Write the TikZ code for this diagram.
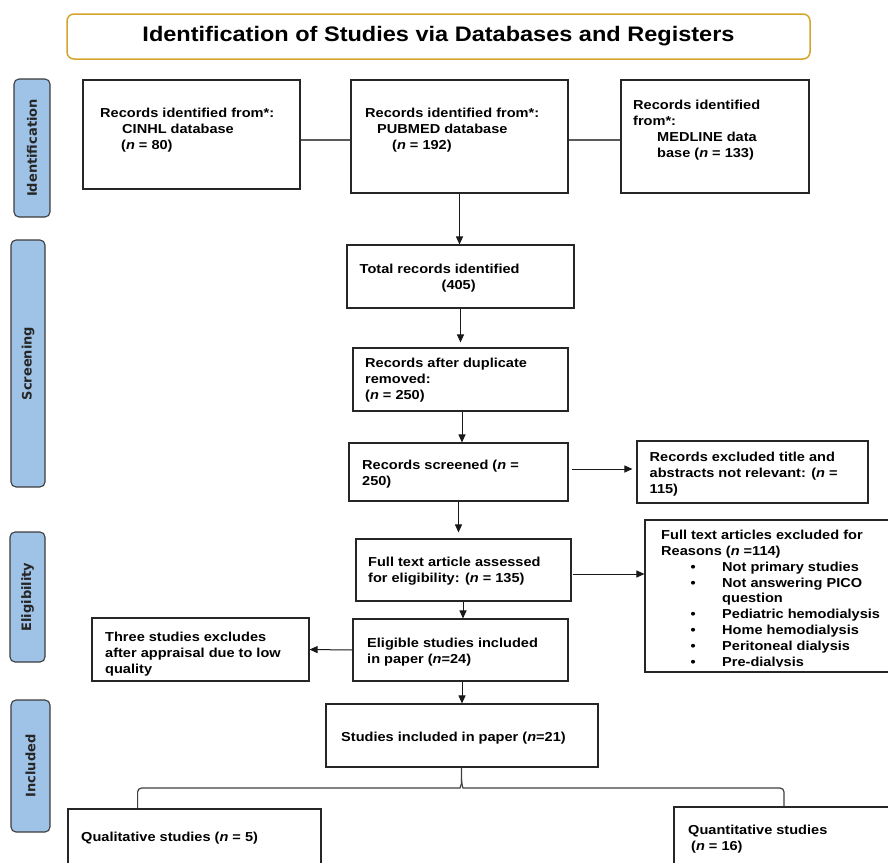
\documentclass[tikz,border=0pt]{standalone}
\usepackage{fontspec}
\usetikzlibrary{arrows.meta,calc}
\newfontfamily\wf{Liberation Sans}[FakeStretch=1.12]
\newfontfamily\sidefont{DejaVu Sans}
\definecolor{sideblue}{HTML}{9FC2E7}
\definecolor{sideedge}{HTML}{3C3C3C}
\definecolor{gold}{HTML}{D4A52A}
\definecolor{connect}{HTML}{5A5A5A}
\tikzset{
  box/.style={draw=black!85, line width=1.1pt, fill=white, inner sep=0pt},
  sidebox/.style={draw=sideedge, line width=1.1pt, fill=sideblue, rounded corners=5pt,
     rotate=90, inner sep=0pt, font=\sidefont\bfseries\fontsize{13}{15}\selectfont, text=black!85},
  txt/.style={anchor=north west, align=left, inner sep=0pt,
     font=\wf\bfseries\fontsize{13}{15.8}\selectfont},
  arr/.style={draw=black!90, line width=1pt, -{Triangle[length=8pt,width=7pt]}},
  gline/.style={draw=connect, line width=1.6pt},
  brace/.style={draw=black!75, line width=1.2pt}
}
\begin{document}
\begin{tikzpicture}[x=1pt,y=-1pt]
\clip (0,0) rectangle (888,862);
\fill[white] (0,0) rectangle (888,862);

% title
\node[draw=gold, line width=1.5pt, rounded corners=7pt, minimum width=743pt, minimum height=45pt,
  inner sep=0pt, font=\wf\bfseries\fontsize{21}{24}\selectfont] (title) at (438.5,36.5)
  {Identification of Studies via Databases and Registers};

% side labels
\node[sidebox, minimum width=138pt, minimum height=36pt] (sid) at (32,148) {Identification};
\node[sidebox, minimum width=247pt, minimum height=34pt] (sscr) at (28,363.5) {Screening};
\node[sidebox, minimum width=130pt, minimum height=35pt] (selig) at (27.5,597) {Eligibility};
\node[sidebox, minimum width=132pt, minimum height=39pt] (sinc) at (30.5,766) {Included};

% boxes
\node[box, minimum width=217pt, minimum height=109pt] (cinhl) at (191.5,134.5) {};
\node[box, minimum width=217pt, minimum height=113pt] (pub) at (459.5,136.5) {};
\node[box, minimum width=188pt, minimum height=113pt] (med) at (715,136.5) {};
\node[box, minimum width=227pt, minimum height=63pt] (tot) at (460.5,276.5) {};
\node[box, minimum width=215pt, minimum height=63pt] (dup) at (460.5,379.5) {};
\node[box, minimum width=219pt, minimum height=58pt] (scr) at (458.5,472) {};
\node[box, minimum width=231pt, minimum height=62pt] (exc1) at (752.5,472) {};
\node[box, minimum width=215pt, minimum height=62pt] (ft) at (463.5,570) {};
\node[box, minimum width=250pt, minimum height=152pt] (exc2) at (770,596) {};
\node[box, minimum width=215pt, minimum height=62pt] (elig) at (460.5,650) {};
\node[box, minimum width=217pt, minimum height=63pt] (three) at (200.5,649.5) {};
\node[box, minimum width=272pt, minimum height=63pt] (inc) at (462,735.5) {};
\node[box, minimum width=253pt, minimum height=71pt] (qual) at (194.5,844.5) {};
\node[box, minimum width=221pt, minimum height=73pt] (quan) at (784.5,843.5) {};

% texts
\node[txt] (t-cinhl) at (100,108) {Records identified from*:\\\hspace*{22pt}CINHL database\\\hspace*{21pt}(\textit{n} = 80)};
\node[txt] (t-pub) at (365,108) {Records identified from*:\\\hspace*{12pt}PUBMED database\\\hspace*{27pt}(\textit{n} = 192)};
\node[txt] (t-med) at (633,100) {Records identified\\from*:\\\hspace*{24pt}MEDLINE data\\\hspace*{24pt}base (\textit{n} = 133)};
\node[txt] (t-tot) at (359.5,264) {Total records identified\\\hspace*{82pt}(405)};
\node[txt] (t-dup) at (365,358) {Records after duplicate\\removed:\\(\textit{n} = 250)};
\node[txt] (t-scr) at (362,460) {Records screened (\textit{n} =\\250)};
\node[txt] (t-exc1) at (649.5,452) {Records excluded title and\\abstracts not relevant: (\textit{n} =\\115)};
\node[txt] (t-ft) at (368,557) {Full text article assessed\\for eligibility: (\textit{n} = 135)};
\begin{scope}
\clip (645,520) rectangle (888,666);
\node[txt] (t-exc2) at (661,530) {Full text articles excluded for\\Reasons (\textit{n} =114)\\
\hspace*{29.5pt}\makebox[31.5pt][l]{\textbullet}Not primary studies\\
\hspace*{29.5pt}\makebox[31.5pt][l]{\textbullet}Not answering PICO\\
\hspace*{61pt}question\\
\hspace*{29.5pt}\makebox[31.5pt][l]{\textbullet}Pediatric hemodialysis\\
\hspace*{29.5pt}\makebox[31.5pt][l]{\textbullet}Home hemodialysis\\
\hspace*{29.5pt}\makebox[31.5pt][l]{\textbullet}Peritoneal dialysis\\
\hspace*{29.5pt}\makebox[31.5pt][l]{\textbullet}Pre-dialysis};
\end{scope}
\node[txt] (t-elig) at (367,638) {Eligible studies included\\in paper (\textit{n}=24)};
\node[txt] (t-three) at (105,632) {Three studies excludes\\after appraisal due to low\\quality};
\node[txt] (t-inc) at (341,732) {Studies included in paper (\textit{n}=21)};
\node[txt] (t-qual) at (81,832) {Qualitative studies (\textit{n} = 5)};
\node[txt] (t-quan) at (688,825) {Quantitative studies\\\hspace*{3pt}(\textit{n} = 16)};

% connectors
\draw[gline] (cinhl.east |- 0,140) -- (pub.west |- 0,140);
\draw[gline] (pub.east |- 0,140) -- (med.west |- 0,140);
\draw[arr] (pub.south) -- (pub.south |- tot.north);
\draw[arr, shorten >=5pt] (tot.south) -- (tot.south |- dup.north);
\draw[arr] ([xshift=1.5pt]dup.south) -- ([xshift=1.5pt]dup.south |- scr.north);
\draw[arr, shorten <=3pt, shorten >=4pt] (scr.east |- 0,469) -- (exc1.west |- 0,469);
\draw[arr, shorten >=6pt] (scr.south) -- (scr.south |- ft.north);
\draw[arr, shorten <=1pt] (ft.east |- 0,574) -- (exc2.west |- 0,574);
\draw[arr] ([xshift=-0.5pt]ft.south) -- ([xshift=-0.5pt]ft.south |- elig.north);
\draw[arr] (elig.west) -- (three.east);
\draw[arr] ([xshift=1.5pt]elig.south) -- ([xshift=1.5pt]elig.south |- inc.north);

% brace
\draw[brace, rounded corners=4pt] (qual.north -| 137.6,0) |- (456,788) .. controls (460,788) and (461.5,784) .. (461.5,779) -- (inc.south -| 461.5,0);
\draw[brace, rounded corners=4pt] (quan.north -| 784,0) |- (467,788) .. controls (463,788) and (461.5,784) .. (461.5,779);
\end{tikzpicture}
\end{document}
